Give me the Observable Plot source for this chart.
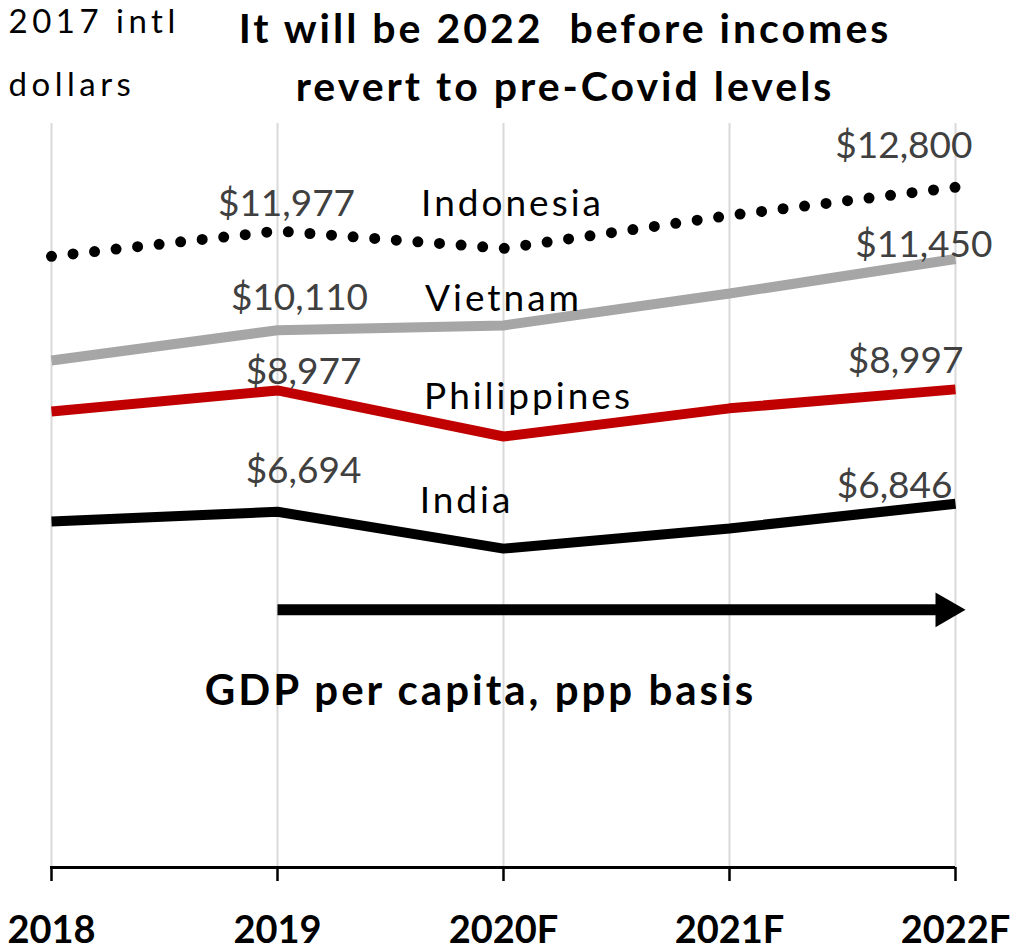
<!DOCTYPE html>
<html>
<head>
<meta charset="utf-8">
<script src="https://cdn.jsdelivr.net/npm/d3@7"></script>
<script src="https://cdn.jsdelivr.net/npm/@observablehq/plot@0.6"></script>
<style>
  html, body { margin: 0; padding: 0; background: white; }
  #chart svg { display: block; }
</style>
</head>
<body>
<div id="chart"></div>
<script>
// ---- data ----
const years = ["2018", "2019", "2020F", "2021F", "2022F"];
const countries = ["Indonesia", "Vietnam", "Philippines", "India"];
const indonesia = [11500, 11977, 11650, 12270, 12800];
const vietnam = [9540, 10110, 10200, 10800, 11450];
const philippines = [8580, 8977, 8110, 8640, 8997];
const india = [6510, 6694, 6000, 6380, 6846];
const titleLines = ["It will be 2022  before incomes", "revert to pre-Covid levels"];
const unitLines = ["2017 intl", "dollars"];
const arrowFrom = "2019", arrowTo = "2022F", arrowLevel = 4850;
const arrowCaption = "GDP per capita, ppp basis";

const seriesValues = [indonesia, vietnam, philippines, india];
const rows = countries.flatMap((c, i) => years.map((yr, j) => ({country: c, year: yr, value: seriesValues[i][j]})));
const fmt = d3.format("$,");

// ---- styles ----
const FONT = "Lato, 'Open Sans', sans-serif";
const styles = {
  Indonesia:   {stroke: "black",   strokeWidth: 11, strokeDasharray: "0 21.7", strokeLinecap: "round",
                start: [9, -15], end: [17, -29], name: [9, -32]},
  Vietnam:     {stroke: "#a6a6a6", strokeWidth: 10, start: [22, -20], end: [37, -2], name: [0, -14]},
  Philippines: {stroke: "#c00000", strokeWidth: 10, start: [26, -6], end: [8, -16], name: [25, -28]},
  India:       {stroke: "black",   strokeWidth: 10, start: [26, -29], end: [-3, -6], name: [-37, -36]}
};

const marks = [
  Plot.ruleX(years, {stroke: "#d9d9d9", strokeWidth: 2}),
  Plot.ruleY([0], {stroke: "black", strokeWidth: 3}),
  Plot.axisX({tickSize: 14, tickPadding: 35, stroke: "black", strokeWidth: 2.5, fontSize: 38,
              fontWeight: "bold", fontFamily: FONT, fill: "black", label: null})
];

for (const c of countries) {
  const s = styles[c];
  const data = rows.filter(d => d.country === c);
  marks.push(Plot.line(data, {
    x: "year", y: "value", stroke: s.stroke, strokeWidth: s.strokeWidth,
    strokeDasharray: s.strokeDasharray, strokeLinecap: s.strokeLinecap || "butt", strokeLinejoin: "miter"
  }));
  marks.push(Plot.text(data.filter(d => d.year === "2019"), {
    x: "year", y: "value", text: d => fmt(d.value), dx: s.start[0], dy: s.start[1],
    textAnchor: "middle", lineAnchor: "bottom", fontSize: 37, fontFamily: FONT, fill: "#404040"
  }));
  marks.push(Plot.text(data.filter(d => d.year === "2022F"), {
    x: "year", y: "value", text: d => fmt(d.value), dx: s.end[0], dy: s.end[1],
    textAnchor: "end", lineAnchor: "bottom", fontSize: 37, fontFamily: FONT, fill: "#404040"
  }));
  marks.push(Plot.text(data.filter(d => d.year === "2020F"), {
    x: "year", y: "value", text: "country", dx: s.name[0], dy: s.name[1],
    textAnchor: "middle", lineAnchor: "bottom", fontSize: 37, fontFamily: FONT, fill: "black"
  }));
}

// arrow
const arrowData = [{year: arrowFrom, value: arrowLevel}, {year: arrowTo, value: arrowLevel}];
marks.push(Plot.line(arrowData, {x: "year", y: "value", stroke: "black", strokeWidth: 11, strokeLinecap: "butt"}));
marks.push(Plot.dot(arrowData.slice(1), {x: "year", y: "value", symbol: "triangle", r: 12.9, rotate: 90,
  fill: "black", stroke: "none", dx: -10}));
marks.push(Plot.text([arrowCaption], {x: () => "2020F", y: () => arrowLevel, text: d => d, dx: -23, dy: 95,
  textAnchor: "middle", lineAnchor: "bottom", fontSize: 42, fontWeight: "bold", fontFamily: FONT, fill: "black"}));

// title and unit
marks.push(Plot.text([titleLines.join("\n")], {frameAnchor: "top", text: d => d, dx: 62, dy: -23,
  textAnchor: "middle", lineAnchor: "bottom", lineHeight: 1.415, fontSize: 41, fontWeight: "bold",
  fontFamily: FONT, fill: "black"}));
marks.push(Plot.text([unitLines.join("\n")], {frameAnchor: "top-left", text: d => d, dx: -42, dy: -28,
  textAnchor: "start", lineAnchor: "bottom", lineHeight: 1.9, fontSize: 33,
  fontFamily: FONT, fill: "black"}));

const chart = Plot.plot({
  width: 1011,
  height: 951,
  marginTop: 123,
  marginBottom: 84,
  marginLeft: 50,
  marginRight: 56,
  style: {background: "white", fontFamily: FONT, overflow: "visible"},
  x: {type: "point", domain: years, padding: 0, axis: null},
  y: {domain: [0, 14000], axis: null},
  marks
});

// letter spacing to mimic the original's wide text rendering
const spacing = new Map([
  ...countries.map(c => [c, "3px"]),
  ...titleLines.map(t => [t, "3px"]),
  ...unitLines.map(t => [t, "4.5px"]),
  [arrowCaption, "3px"]
]);
d3.select(chart).selectAll("text, tspan").each(function () {
  const own = Array.from(this.childNodes).filter(n => n.nodeType === 3).map(n => n.textContent).join("");
  if (spacing.has(own)) this.setAttribute("letter-spacing", spacing.get(own));
});
document.getElementById("chart").appendChild(chart);

// make the dotted line start and end on a dot
d3.select(chart).selectAll("g[stroke-dasharray] path, path[stroke-dasharray]").each(function () {
  const len = this.getTotalLength();
  if (len > 0) {
    const n = Math.max(1, Math.round(len / 21.7));
    this.setAttribute("stroke-dasharray", `0 ${(len - 0.5) / n}`);
  }
});
</script>
</body>
</html>
